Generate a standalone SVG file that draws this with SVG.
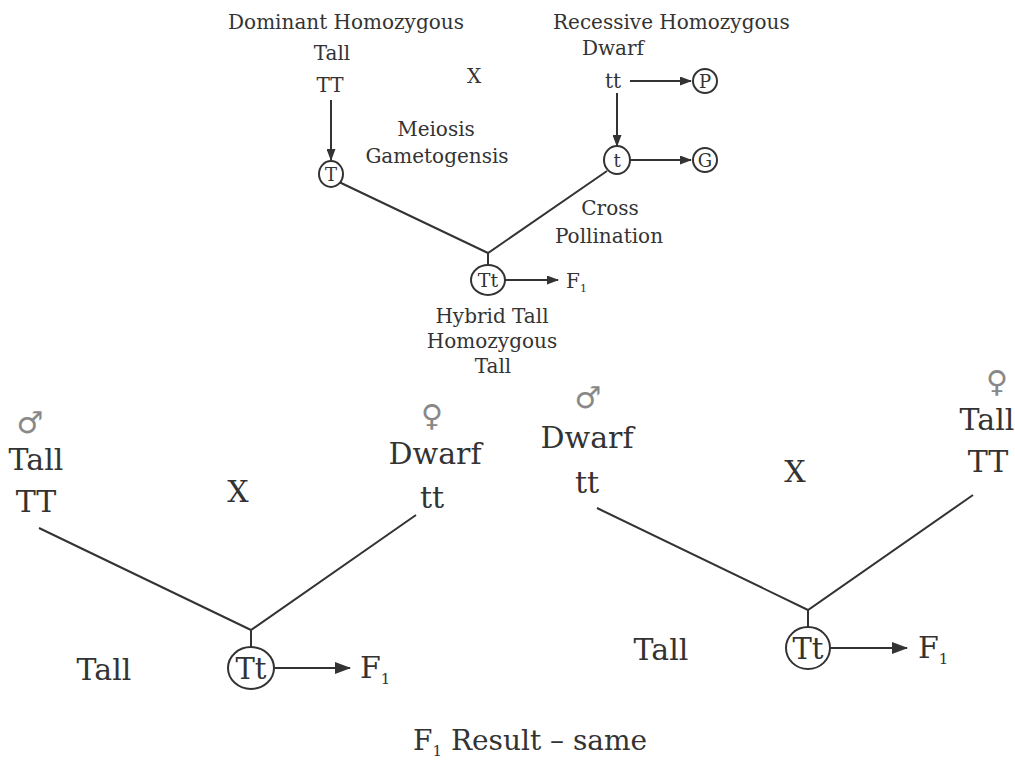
<svg xmlns="http://www.w3.org/2000/svg" width="1015" height="760" viewBox="0 0 1015 760">
<defs>
<marker id="ah" markerUnits="userSpaceOnUse" markerWidth="12" markerHeight="9" refX="11" refY="4.5" orient="auto">
<path d="M0,0 L12,4.5 L0,9 Z" fill="#333"/>
</marker>
<marker id="ahb" markerUnits="userSpaceOnUse" markerWidth="16" markerHeight="12" refX="15" refY="6" orient="auto">
<path d="M0,0 L16,6 L0,12 Z" fill="#333"/>
</marker>
<style>
text{font-family:"DejaVu Serif","Liberation Serif",serif;fill:#333;text-anchor:middle}
.s{font-size:20px}
.b{font-size:30px}
.sym{font-family:"DejaVu Sans ExtraLight","DejaVu Sans",sans-serif;fill:#888;font-size:30px}
.l{stroke:#333;stroke-width:2;fill:none}
.a{stroke:#333;stroke-width:2;fill:none;marker-end:url(#ah)}
.ab{stroke:#333;stroke-width:2;fill:none;marker-end:url(#ahb)}
.c{stroke:#333;stroke-width:2;fill:#fff}
.st{text-anchor:start}
</style>
</defs>
<rect width="1015" height="760" fill="#fff"/>

<g id="connectors">
<line class="a" x1="331" y1="100" x2="331" y2="160"/>
<line class="a" x1="630" y1="81" x2="691" y2="81"/>
<line class="a" x1="617" y1="93" x2="617" y2="146"/>
<line class="a" x1="630" y1="160" x2="691" y2="160"/>
<polyline class="l" points="339,182 488,253 607,171"/>
<line class="l" x1="488" y1="253" x2="488" y2="265"/>
<line class="a" x1="505" y1="280" x2="558" y2="280"/>

<polyline class="l" points="39,528 251,630 416,515"/>
<line class="l" x1="251" y1="630" x2="251" y2="647"/>
<line class="ab" x1="274" y1="668" x2="350" y2="668"/>

<polyline class="l" points="597,508 808,610 973,495"/>
<line class="l" x1="808" y1="610" x2="808" y2="627"/>
<line class="ab" x1="830" y1="648" x2="907" y2="648"/>
</g>

<g id="top-dominant">
<text class="s" x="346" y="29">Dominant Homozygous</text>
<text class="s" x="332" y="60">Tall</text>
<text class="s" x="330" y="92">TT</text>
</g>
<g id="top-T">
<ellipse class="c" cx="331" cy="174" rx="12" ry="13"/>
<text x="331" y="181" font-size="18">T</text>
</g>
<g id="top-cross">
<text class="s" x="474" y="83">X</text>
<text class="s" x="436" y="136">Meiosis</text>
<text class="s" x="437" y="163">Gametogensis</text>
</g>
<g id="top-recessive">
<text class="s st" x="553" y="29">Recessive Homozygous</text>
<text class="s" x="613" y="55">Dwarf</text>
<text class="s" x="613" y="88">tt</text>
</g>
<g id="top-P">
<circle class="c" cx="705" cy="81" r="12"/>
<text x="705" y="88" font-size="18">P</text>
</g>
<g id="top-t">
<ellipse class="c" cx="617" cy="160" rx="13" ry="14"/>
<text x="617" y="167" font-size="18">t</text>
</g>
<g id="top-G">
<circle class="c" cx="705" cy="160" r="12"/>
<text x="705" y="167" font-size="18">G</text>
</g>
<g id="top-pollination">
<text class="s" x="610" y="215">Cross</text>
<text class="s" x="609" y="243">Pollination</text>
</g>
<g id="top-Tt">
<ellipse class="c" cx="488" cy="280" rx="17" ry="15"/>
<text x="488" y="287" font-size="19">Tt</text>
<text class="s st" x="566" y="288">F<tspan font-size="11" dy="4">1</tspan></text>
<text class="s" x="492" y="323">Hybrid Tall</text>
<text class="s" x="492" y="348">Homozygous</text>
<text class="s" x="493" y="373">Tall</text>
</g>

<g id="left-male">
<text class="sym" x="30" y="433">&#x2642;&#xFE0E;</text>
<text class="b" x="36" y="470">Tall</text>
<text class="b" x="36" y="512">TT</text>
</g>
<text class="b" x="238" y="502">X</text>
<g id="left-female">
<text class="sym" x="432" y="426">&#x2640;&#xFE0E;</text>
<text class="b" x="435" y="464">Dwarf</text>
<text class="b" x="432" y="508">tt</text>
</g>
<g id="left-Tt">
<ellipse class="c" cx="251" cy="668" rx="23" ry="21"/>
<text x="251" y="679" font-size="29">Tt</text>
<text class="b st" x="360" y="678">F<tspan font-size="15" dy="6">1</tspan></text>
<text class="b" x="104" y="680">Tall</text>
</g>

<g id="right-male">
<text class="sym" x="588" y="408">&#x2642;&#xFE0E;</text>
<text class="b" x="587" y="448">Dwarf</text>
<text class="b" x="587" y="493">tt</text>
</g>
<text class="b" x="795" y="482">X</text>
<g id="right-female">
<text class="sym" x="997" y="392">&#x2640;&#xFE0E;</text>
<text class="b" x="987" y="430">Tall</text>
<text class="b" x="988" y="472">TT</text>
</g>
<g id="right-Tt">
<ellipse class="c" cx="808" cy="648" rx="22" ry="21"/>
<text x="808" y="659" font-size="29">Tt</text>
<text class="b st" x="918" y="658">F<tspan font-size="15" dy="6">1</tspan></text>
<text class="b" x="661" y="660">Tall</text>
</g>

<g id="result">
<text class="st" x="413" y="750" font-size="28">F<tspan font-size="15" dy="6">1</tspan><tspan dy="-6"> Result – same</tspan></text>
</g>
</svg>
